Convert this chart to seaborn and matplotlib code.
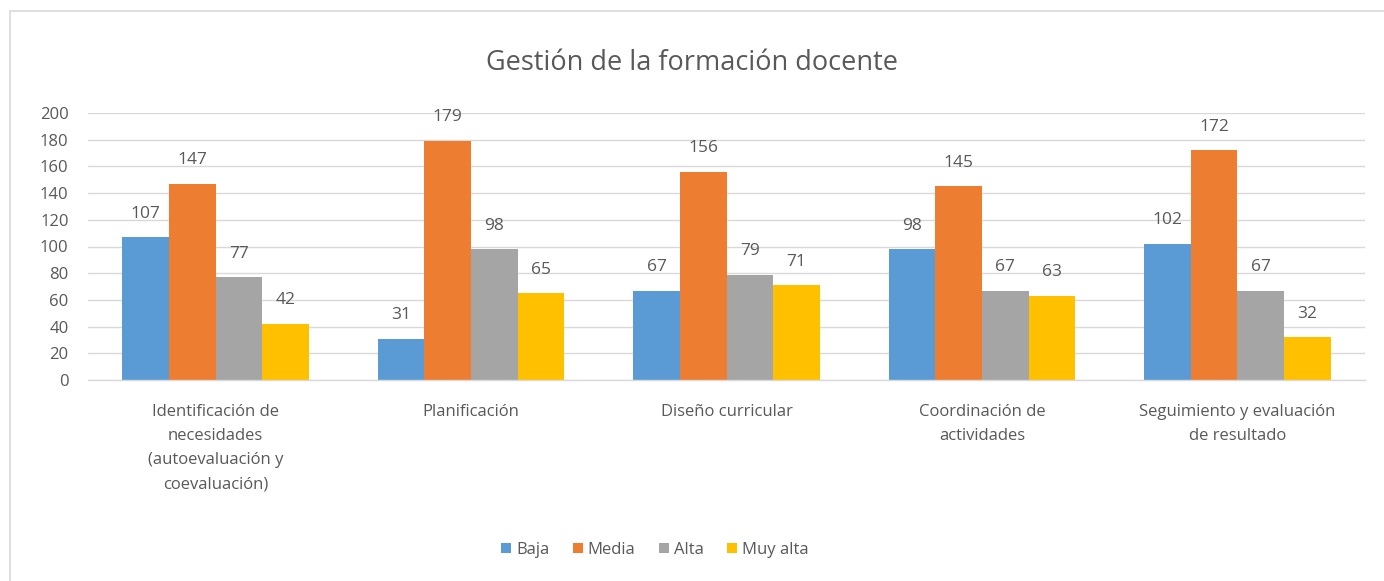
import matplotlib
matplotlib.use("Agg")
import matplotlib.pyplot as plt
import seaborn as sns
import pandas as pd
from matplotlib.patches import Rectangle
from matplotlib.lines import Line2D

categories = [
    "Identificación de\nnecesidades\n(autoevaluación y\ncoevaluación)",
    "Planificación",
    "Diseño curricular",
    "Coordinación de\nactividades",
    "Seguimiento y evaluación\nde resultado",
]
series_names = ["Baja", "Media", "Alta", "Muy alta"]
baja = [107, 31, 67, 98, 102]
media = [147, 179, 156, 145, 172]
alta = [77, 98, 79, 67, 67]
muy_alta = [42, 65, 71, 63, 32]
colors = ["#5B9BD5", "#ED7D31", "#A5A5A5", "#FFC000"]
y_ticks = [0, 20, 40, 60, 80, 100, 120, 140, 160, 180, 200]

rows = []
for name, vals in zip(series_names, [baja, media, alta, muy_alta]):
    for c, v in zip(categories, vals):
        rows.append({"cat": c, "serie": name, "valor": v})
df = pd.DataFrame(rows)

sns.set_theme(style="white")
plt.rcParams["font.family"] = ["Open Sans", "DejaVu Sans"]

fig = plt.figure(figsize=(13.84, 5.81), dpi=100)
ax = fig.add_axes([88 / 1384, 1 - 380 / 581, (1365 - 88) / 1384, (380 - 113) / 581])

sns.barplot(data=df, x="cat", y="valor", hue="serie", order=categories,
            hue_order=series_names, palette=colors, width=0.73,
            saturation=1, ax=ax, legend=False, errorbar=None, linewidth=0)

for cont in ax.containers:
    for bar in cont:
        h = bar.get_height()
        ax.annotate(f"{int(round(h))}", (bar.get_x() + bar.get_width() / 2, h),
                    xytext=(0, 17), textcoords="offset points",
                    ha="center", va="center", fontsize=12.5, color="#595959")

ax.set_ylim(0, 200)
ax.set_yticks(y_ticks)
ax.set_xlim(-0.5, len(categories) - 0.5)
ax.yaxis.grid(True, color="#D9D9D9", linewidth=1)
ax.set_axisbelow(True)
for s in ["top", "right", "left"]:
    ax.spines[s].set_visible(False)
ax.spines["bottom"].set_color("#D9D9D9")
ax.spines["bottom"].set_linewidth(1)
ax.tick_params(axis="y", length=0, labelsize=12, labelcolor="#595959", pad=14)
ax.tick_params(axis="x", length=0, labelsize=12, labelcolor="#595959", pad=17)
ax.set_xticks(range(len(categories)))
ax.set_xticklabels(categories, linespacing=1.68)
ax.set_xlabel("")
ax.set_ylabel("")

fig.text(0.5, 1 - 63 / 581, "Gestión de la formación docente", ha="center", va="center",
         fontsize=19.5, color="#595959")

handles = [Rectangle((0, 0), 1, 1, facecolor=c, edgecolor="none") for c in colors]
fig.legend(handles, series_names, loc="center", bbox_to_anchor=(655 / 1384, 1 - 550 / 581),
           ncol=4, frameon=False, fontsize=12, labelcolor="#595959",
           handlelength=0.6, handleheight=0.6, handletextpad=0.3, columnspacing=1.4)

fig.add_artist(Line2D([10 / 1384, 10 / 1384], [0, 1 - 11 / 581], transform=fig.transFigure,
                      color="#D9D9D9", linewidth=1.2))
fig.add_artist(Line2D([10 / 1384, 1], [1 - 11 / 581, 1 - 11 / 581], transform=fig.transFigure,
                      color="#D9D9D9", linewidth=1.2))

fig.savefig("out.png", dpi=100, facecolor="white")
